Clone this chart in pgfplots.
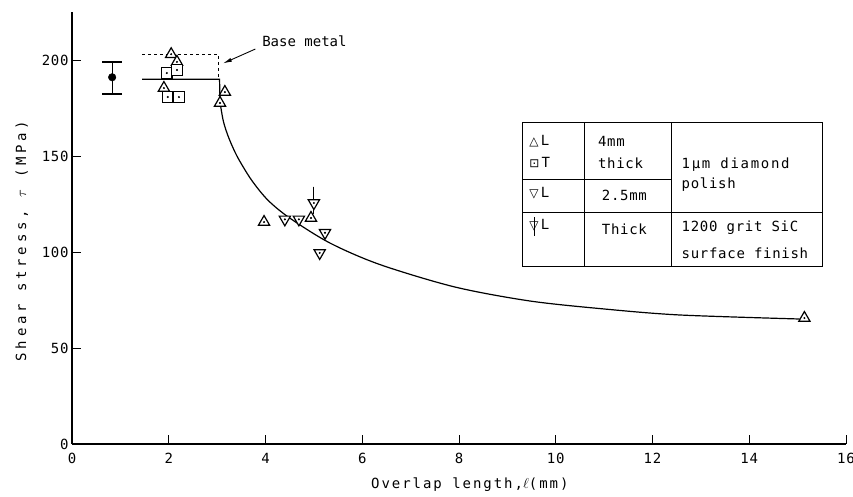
\documentclass[border=0pt]{standalone}
\usepackage{fontspec}
\setmainfont{DejaVu Sans Mono}
\newfontfamily\mono{DejaVu Sans Mono}[LetterSpace=5]
\newfontfamily\monoB{DejaVu Sans Mono}[LetterSpace=0]
\newfontfamily\monoT{DejaVu Sans Mono}[LetterSpace=12]
\newfontfamily\monoX{DejaVu Sans Mono}[LetterSpace=14]
\newfontfamily\monoY{DejaVu Sans Mono}[LetterSpace=27]
\newfontfamily\sym{DejaVu Sans}
\usepackage{pgfplots}
\pgfplotsset{compat=1.18}
\usepackage{pgfplotstable}
\usetikzlibrary{arrows.meta}

\pgfplotstableread{
x y
2.05 203
2.17 199
1.90 185.4
3.16 183.3
3.06 177.6
3.97 115.6
4.94 117.7
15.14 65.6
}\uptri

\pgfplotstableread{
x y
1.96 193.2
2.17 194.8
1.98 180.7
2.21 180.7
}\squares

\pgfplotstableread{
x y
4.40 117
4.69 117
5.23 110
5.12 99.5
}\downtri

\pgfplotstableread{
x y
5.00 125.5
}\thickspec

\pgfplotstableread{
x y
3.06 178
3.13 168
3.24 159.5
3.42 149.5
3.71 137.5
4.05 127.0
4.50 117.7
5.33 104.7
6.36 93.5
7.91 81.8
9.46 74.5
11.01 70.3
12.56 67.2
15.04 65.1
}\fitcurve

\begin{document}
\begin{tikzpicture}
\useasboundingbox (-72pt,-53pt) rectangle (781pt,444pt);
\begin{axis}[
  scale only axis,
  width=774pt, height=432pt,
  at={(0,0)}, anchor=south west,
  xmin=0, xmax=16, ymin=0, ymax=225,
  axis x line=bottom, axis y line=left,
  axis line style={-, line width=1.1pt},
  xtick={0,2,...,16}, ytick={0,50,...,200},
  tick align=inside,
  major tick length=9pt,
  tick style={black, line width=0.9pt},
  /pgf/number format/assume math mode=true,
  ticklabel style={font=\fontsize{14}{16}\selectfont\mono},
  xticklabel style={yshift=-6pt},
  xlabel={\monoX Overlap length,$\ell$(mm)},
  ylabel={\monoY Shear stress, $\tau$ (MPa)},
  label style={font=\fontsize{14}{16}\selectfont},
  xlabel style={at={(axis description cs:0.514,-0.095)}, anchor=center},
  ylabel style={at={(axis description cs:-0.065,0.47)}, anchor=center, rotate=0},
  clip=false,
]
% base metal band
\draw[dashed, line width=1pt] (axis cs:1.45,203) -- (axis cs:3.03,203) -- (axis cs:3.03,190.5);
\addplot[black, line width=1.2pt, mark=none] coordinates {(1.45,190) (3.05,190) (3.06,178)};
% fitted curve
\addplot[black, line width=1.2pt, smooth, mark=none] table[x=x,y=y] {\fitcurve};
% annotation
\node[anchor=west, font=\fontsize{14}{16}\selectfont\monoB] at (axis cs:3.86,210) {Base metal};
\draw[-{Latex[length=9pt,width=4pt]}, line width=0.9pt] (axis cs:3.79,205.7) -- (axis cs:3.12,198.2);
% reference point with error bar
\addplot[black, mark=*, mark size=3.8pt, only marks,
  error bars/.cd, y dir=both, y explicit,
  error bar style={line width=1.2pt},
  error mark options={rotate=90, mark size=10pt, line width=1.2pt}]
  coordinates {(0.83,191) += (0,8) -= (0,8.7)};
% stem of thick specimen
\addplot[black, line width=1pt, mark=none] coordinates {(5.0,134) (5.0,120)};
% data
\addplot[only marks, mark=triangle*, mark size=6.5pt, mark options={fill=white, draw=black, line width=1.2pt}] table[x=x,y=y] {\uptri};
\addplot[only marks, mark=square*, mark size=5.2pt, mark options={fill=white, draw=black, line width=1.2pt}] table[x=x,y=y] {\squares};
\addplot[only marks, mark=triangle*, mark size=6.5pt, mark options={rotate=180, fill=white, draw=black, line width=1.2pt}] table[x=x,y=y] {\downtri};
\addplot[only marks, mark=triangle*, mark size=6.5pt, mark options={rotate=180, fill=white, draw=black, line width=1.2pt}] table[x=x,y=y] {\thickspec};
\addplot[black, line width=1pt, mark=none] coordinates {(5.0,134) (5.0,128)};
% centre dots
\addplot[only marks, mark=*, mark size=0.8pt, black] table[x=x,y=y] {\uptri};
\addplot[only marks, mark=*, mark size=0.8pt, black] table[x=x,y=y] {\squares};
\addplot[only marks, mark=*, mark size=0.8pt, black] table[x=x,y=y] {\downtri};
\addplot[only marks, mark=*, mark size=0.8pt, black] table[x=x,y=y] {\thickspec};
% key table
\draw[line width=1pt] (axis cs:9.32,92.2) rectangle (axis cs:15.52,167.2);
\draw[line width=1pt] (axis cs:10.60,92.2) -- (axis cs:10.60,167.2);
\draw[line width=1pt] (axis cs:12.40,92.2) -- (axis cs:12.40,167.2);
\draw[line width=1pt] (axis cs:9.32,137.5) -- (axis cs:12.40,137.5);
\draw[line width=1pt] (axis cs:9.32,120.8) -- (axis cs:15.52,120.8);
\begin{scope}[every node/.style={anchor=west, inner sep=0pt, font=\fontsize{14}{16}\selectfont\mono}]
\node at (axis cs:9.45,157.8) {{\sym\fontsize{12}{12}\selectfont △}\,L};
\node at (axis cs:9.45,146.4) {{\sym\fontsize{12}{12}\selectfont ⊡}\,T};
\node at (axis cs:9.45,130.7) {{\sym\fontsize{12}{12}\selectfont ▽}\,L};
\node at (axis cs:9.45,113.5) {\rlap{\hspace{4.4pt}\rule[-6pt]{0.9pt}{19pt}}{\sym\fontsize{12}{12}\selectfont ▽}\,L};
\node at (axis cs:10.87,157.8) {4mm};
\node at (axis cs:10.87,146.4) {thick};
\node at (axis cs:10.95,129.7) {2.5mm};
\node at (axis cs:10.95,112.0) {Thick};
\node[font=\fontsize{14}{16}\selectfont\monoT] at (axis cs:12.60,145.3) {1µm diamond};
\node at (axis cs:12.60,134.9) {polish};
\node at (axis cs:12.60,112.5) {1200 grit SiC};
\node at (axis cs:12.60,99.5) {surface finish};
\end{scope}
\end{axis}
\end{tikzpicture}
\end{document}
